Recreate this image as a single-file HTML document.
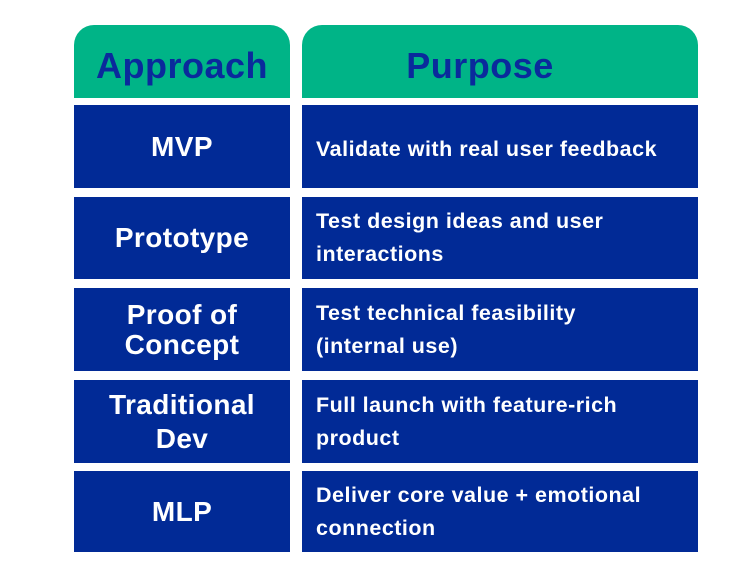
<!DOCTYPE html>
<html><head><style>
body{margin:0;width:750px;height:576px;background:#fff;position:relative;font-family:"Liberation Sans",sans-serif;font-weight:bold;overflow:hidden}
.c{position:absolute;display:flex;align-items:center;box-sizing:border-box}
.h{background:#00b487;color:#0a2a9c;font-size:36px;letter-spacing:0.5px;justify-content:center;border-radius:20px 20px 0 0;padding-top:8px}
.l{background:#012a96;color:#fff;font-size:28px;letter-spacing:0.4px;justify-content:center;text-align:center;line-height:30px;left:74px;width:216px}
.r{background:#012a96;color:#fff;font-size:21.5px;letter-spacing:0.5px;left:302px;width:396px;padding-left:14px;line-height:33px}
</style></head><body>
<div class="c h" style="left:74px;top:25px;width:216px;height:73px">Approach</div>
<div class="c h" style="left:302px;top:25px;width:396px;height:73px;padding-right:40px">Purpose</div>
<div class="c l" style="top:105px;height:83px">MVP</div>
<div class="c r" style="top:105px;height:83px;padding-top:6px">Validate with real user feedback</div>
<div class="c l" style="top:197px;height:82px">Prototype</div>
<div class="c r" style="top:197px;height:82px">Test design ideas and user<br>interactions</div>
<div class="c l" style="top:288px;height:83px">Proof of<br>Concept</div>
<div class="c r" style="top:288px;height:83px">Test technical feasibility<br>(internal use)</div>
<div class="c l" style="top:380px;height:83px;line-height:34px">Traditional<br>Dev</div>
<div class="c r" style="top:380px;height:83px">Full launch with feature-rich<br>product</div>
<div class="c l" style="top:471px;height:81px">MLP</div>
<div class="c r" style="top:471px;height:81px">Deliver core value + emotional<br>connection</div>
</body></html>
